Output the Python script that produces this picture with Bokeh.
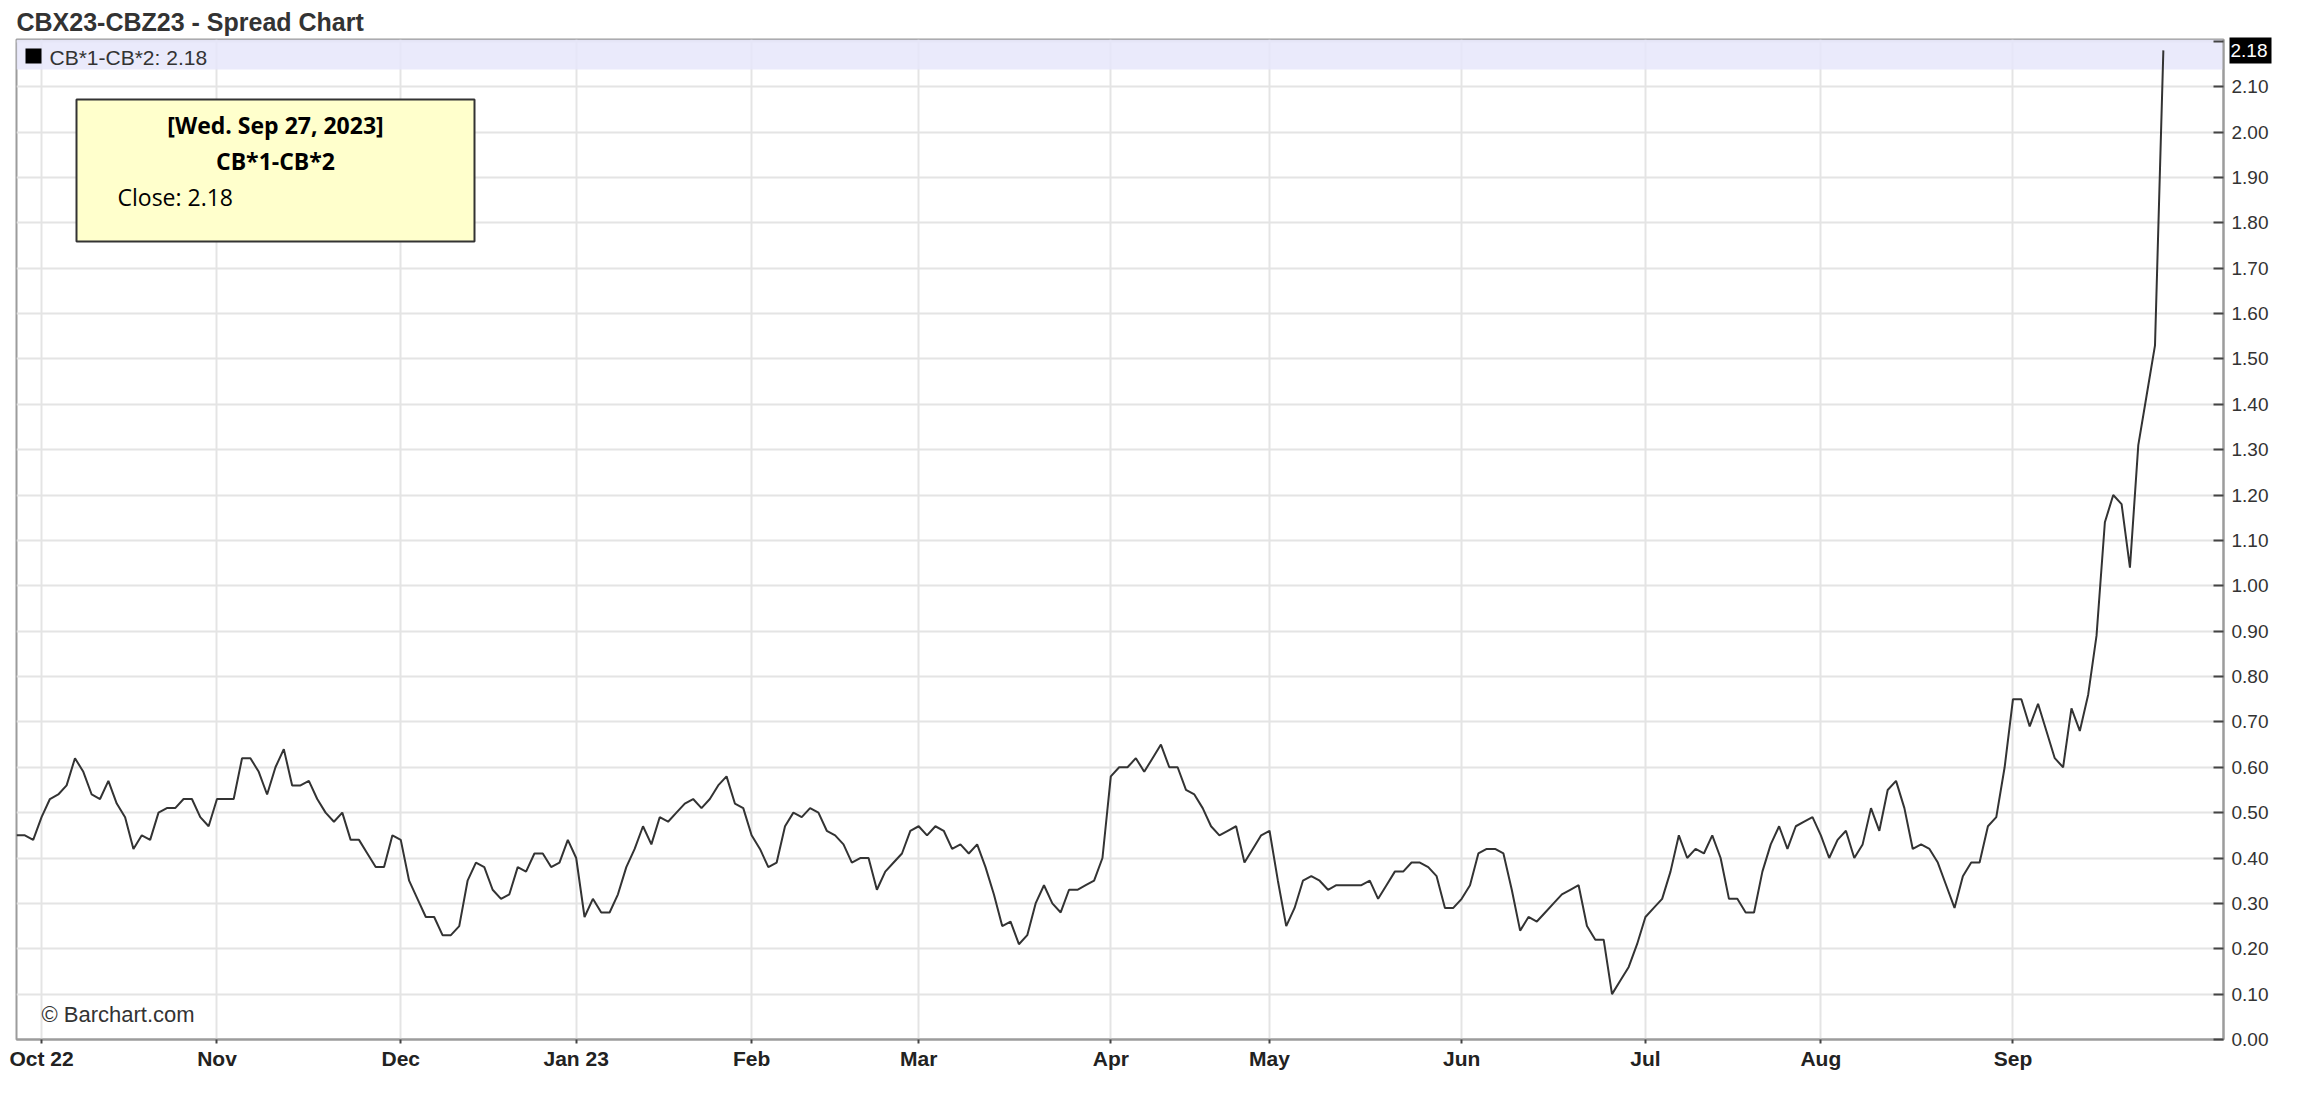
from bokeh.plotting import figure
from bokeh.models import Range1d, FixedTicker, Label, BoxAnnotation, PrintfTickFormatter, LinearAxis
from bokeh.embed import file_html
from bokeh.resources import INLINE

# ---------------- data (daily closes of the spread, trading days) ----------------
title_text = "CBX23-CBZ23 - Spread Chart"
series_name = "CB*1-CB*2"
last_date_text = "[Wed. Sep 27, 2023]"

sep22 = [0.45, 0.45, 0.44]
oct22 = [0.49, 0.53, 0.54, 0.56, 0.62, 0.59, 0.54, 0.53, 0.57, 0.52, 0.49, 0.42,
         0.45, 0.44, 0.50, 0.51, 0.51, 0.53, 0.53, 0.49, 0.47]
nov22 = [0.53, 0.53, 0.53, 0.62, 0.62, 0.59, 0.54, 0.60, 0.64, 0.56, 0.56, 0.57,
         0.53, 0.50, 0.48, 0.50, 0.44, 0.44, 0.41, 0.38, 0.38, 0.45]
dec22 = [0.44, 0.35, 0.31, 0.27, 0.27, 0.23, 0.23, 0.25, 0.35, 0.39, 0.38, 0.33,
         0.31, 0.32, 0.38, 0.37, 0.41, 0.41, 0.38, 0.39, 0.44]
jan23 = [0.40, 0.27, 0.31, 0.28, 0.28, 0.32, 0.38, 0.42, 0.47, 0.43, 0.49, 0.48,
         0.50, 0.52, 0.53, 0.51, 0.53, 0.56, 0.58, 0.52, 0.51]
feb23 = [0.45, 0.42, 0.38, 0.39, 0.47, 0.50, 0.49, 0.51, 0.50, 0.46, 0.45, 0.43,
         0.39, 0.40, 0.40, 0.33, 0.37, 0.39, 0.41, 0.46]
mar23 = [0.47, 0.45, 0.47, 0.46, 0.42, 0.43, 0.41, 0.43, 0.38, 0.32, 0.25, 0.26,
         0.21, 0.23, 0.30, 0.34, 0.30, 0.28, 0.33, 0.33, 0.34, 0.35, 0.40]
apr23 = [0.58, 0.60, 0.60, 0.62, 0.59, 0.62, 0.65, 0.60, 0.60, 0.55, 0.54, 0.51,
         0.47, 0.45, 0.46, 0.47, 0.39, 0.42, 0.45]
may23 = [0.46, 0.35, 0.25, 0.29, 0.35, 0.36, 0.35, 0.33, 0.34, 0.34, 0.34, 0.34,
         0.35, 0.31, 0.34, 0.37, 0.37, 0.39, 0.39, 0.38, 0.36, 0.29, 0.29]
jun23 = [0.31, 0.34, 0.41, 0.42, 0.42, 0.41, 0.33, 0.24, 0.27, 0.26, 0.28, 0.30,
         0.32, 0.33, 0.34, 0.25, 0.22, 0.22, 0.10, 0.13, 0.16, 0.21]
jul23 = [0.27, 0.29, 0.31, 0.37, 0.45, 0.40, 0.42, 0.41, 0.45, 0.40, 0.31, 0.31,
         0.28, 0.28, 0.37, 0.43, 0.47, 0.42, 0.47, 0.48, 0.49]
aug23 = [0.45, 0.40, 0.44, 0.46, 0.40, 0.43, 0.51, 0.46, 0.55, 0.57, 0.51, 0.42,
         0.43, 0.42, 0.39, 0.34, 0.29, 0.36, 0.39, 0.39, 0.47, 0.49, 0.60]
sep23 = [0.75, 0.75, 0.69, 0.74, 0.68, 0.62, 0.60, 0.73, 0.68, 0.76, 0.89, 1.14,
         1.20, 1.18, 1.04, 1.31, 1.42, 1.53, 2.18]

months = [oct22, nov22, dec22, jan23, feb23, mar23, apr23, may23, jun23, jul23, aug23, sep23]
month_labels = ["Oct 22", "Nov", "Dec", "Jan 23", "Feb", "Mar", "Apr", "May",
                "Jun", "Jul", "Aug", "Sep"]
y_ticks = [round(i * 0.1, 2) for i in range(23)]

closes = list(sep22)
tick_pos = []
for m in months:
    tick_pos.append(len(closes))
    closes.extend(m)
xs = list(range(len(closes)))
last_close = closes[-1]

# ---------------- geometry (page pixels) ----------------
FL, FR, FT, FB = 16, 2223, 39, 1039
X0, X1 = 0.0, 264.2
Y0, Y1 = 0.0, 2.204
W, H = 2296, 1090


def dx(px):
    return X0 + (px - FL) / (FR - FL) * (X1 - X0)


def dy(py):
    return Y0 + (FB - py) / (FB - FT) * (Y1 - Y0)


GRID = "#e4e4e4"
AXIS = "#9c9c9c"

p = figure(width=W, height=H, output_backend="svg", toolbar_location=None,
           y_axis_location="right", x_range=Range1d(X0, X1), y_range=Range1d(Y0, Y1),
           min_border_left=FL, min_border_right=W - FR, min_border_top=FT,
           min_border_bottom=H - FB)
p.background_fill_color = "white"
p.border_fill_color = "white"
p.outline_line_color = AXIS
p.outline_line_width = 2

# title
p.title.text = title_text
p.title.text_font = "Liberation Sans"
p.title.text_font_style = "bold"
p.title.text_font_size = "25px"
p.title.text_color = "#333333"
p.title.text_line_height = 1.0
p.title.align = "left"
p.title.vertical_align = "top"
p.title.offset = 0
p.title.standoff = 4

# grid
p.xgrid.ticker = FixedTicker(ticks=tick_pos)
p.ygrid.ticker = FixedTicker(ticks=y_ticks)
for g in (p.xgrid, p.ygrid):
    g.grid_line_color = GRID
    g.grid_line_width = 2

# x axis
xa = p.xaxis[0]
xa.ticker = FixedTicker(ticks=tick_pos)
xa.major_label_overrides = {t: lab for t, lab in zip(tick_pos, month_labels)}
xa.major_label_text_font = "Liberation Sans"
xa.major_label_text_font_style = "bold"
xa.major_label_text_font_size = "21px"
xa.major_label_text_color = "#222222"
xa.major_label_standoff = 3
xa.axis_line_color = AXIS
xa.axis_line_width = 2
xa.major_tick_in = 0
xa.major_tick_out = 4
xa.major_tick_line_color = "#444444"
xa.major_tick_line_width = 2
xa.minor_tick_line_color = None

# y axis (right)
ya = p.yaxis[0]
ya.ticker = FixedTicker(ticks=y_ticks)
ya.formatter = PrintfTickFormatter(format="%.2f")
ya.major_label_overrides = {2.2: ""}
ya.major_label_text_font = "Liberation Sans"
ya.major_label_text_font_size = "19px"
ya.major_label_text_color = "#333333"
ya.major_label_standoff = 8
ya.axis_line_color = AXIS
ya.axis_line_width = 2
ya.major_tick_in = 10
ya.major_tick_out = 0
ya.major_tick_line_color = "#444444"
ya.major_tick_line_width = 2
ya.minor_tick_line_color = None

# last-price marker: a second right axis with a single, thick inward tick
# (black box) and a white label drawn over it
price_axis = LinearAxis(ticker=FixedTicker(ticks=[last_close]),
                        formatter=PrintfTickFormatter(format="%.2f"),
                        axis_line_color=None,
                        major_tick_in=42, major_tick_out=0,
                        major_tick_line_color="black", major_tick_line_width=26,
                        minor_tick_line_color=None, minor_tick_out=0, minor_tick_in=0,
                        major_label_standoff=-41,
                        major_label_text_color="white",
                        major_label_text_font="Liberation Sans",
                        major_label_text_font_size="19px")
p.add_layout(price_axis, "right")

# legend band
band = BoxAnnotation(bottom=dy(69), fill_color="#e6e6fa", fill_alpha=0.85,
                     line_alpha=0, level="underlay")
p.add_layout(band)

# price line
p.line(xs, closes, line_color="#333333", line_width=2)

# legend marker + text
p.add_layout(BoxAnnotation(left=dx(25), right=dx(41), top=dy(48), bottom=dy(63),
                           fill_color="black", fill_alpha=1, line_alpha=0))
p.add_layout(Label(x=dx(49), y=dy(57), text=f"{series_name}: {last_close:.2f}",
                   text_font="Liberation Sans", text_font_size="21px",
                   text_color="#333333", text_baseline="alphabetic"))

# tooltip box
p.add_layout(BoxAnnotation(left=dx(76), right=dx(474), top=dy(99), bottom=dy(241),
                           fill_color="#ffffcc", fill_alpha=1,
                           line_color="#333333", line_alpha=1, line_width=2))
p.add_layout(Label(x=dx(275), y=dy(124), text=last_date_text, text_align="center",
                   text_font="Open Sans", text_font_style="bold",
                   text_font_size="23px", text_color="black", text_baseline="alphabetic"))
p.add_layout(Label(x=dx(275), y=dy(160), text=series_name, text_align="center",
                   text_font="Open Sans", text_font_style="bold",
                   text_font_size="23px", text_color="black", text_baseline="alphabetic"))
p.add_layout(Label(x=dx(117), y=dy(196), text=f"Close: {last_close:.2f}",
                   text_font="Open Sans", text_font_size="23px",
                   text_color="black", text_baseline="alphabetic"))

# copyright
p.add_layout(Label(x=dx(41), y=dy(1014), text="\u00a9 Barchart.com",
                   text_font="Liberation Sans", text_font_size="22px",
                   text_color="#333333", text_baseline="alphabetic"))

open("out.html", "w").write(file_html(p, INLINE))
